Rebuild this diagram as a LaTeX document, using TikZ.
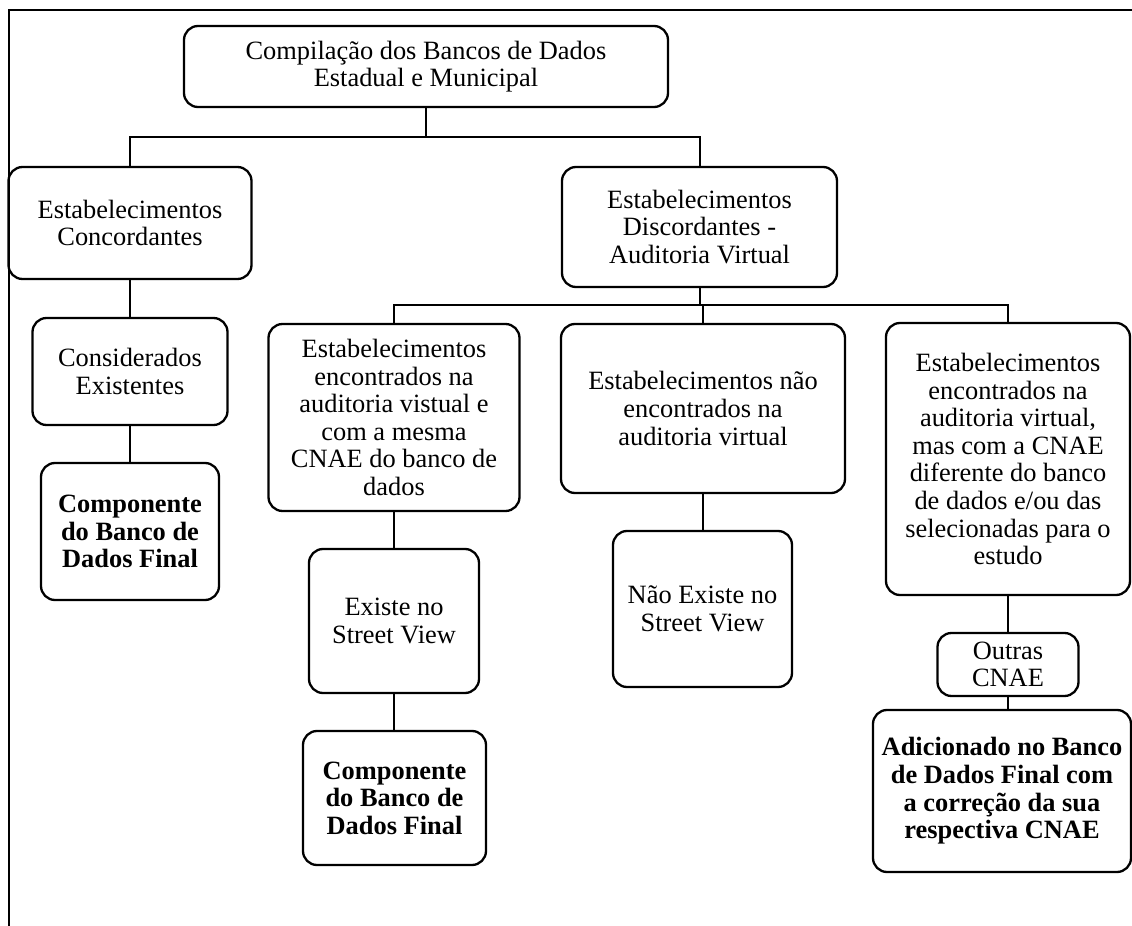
\documentclass[tikz,border=0pt]{standalone}
\usepackage{fontspec}
\setmainfont{Liberation Serif}
\usetikzlibrary{positioning}

\begin{document}
\begin{tikzpicture}[x=0.5pt,y=-0.5pt,
    caixa/.style={draw,line width=1.15pt,rounded corners=7pt,align=center,inner sep=2pt,
                  font=\fontsize{13.2}{13.8}\selectfont},
    negrito/.style={caixa,font=\fontsize{13.2}{13.8}\selectfont\bfseries},
    liga/.style={line width=1pt}]
    \useasboundingbox (0,0) rectangle (1132,926);

    % Moldura
    \draw[liga] (8.5,926) -- (8.5,10) -- (1132,10);

    % Caixas
    \node[caixa,minimum width=242pt,minimum height=40.5pt] (top) at (426,66.5)
        {Compilação dos Bancos de Dados\\Estadual e Municipal};
    \node[caixa,minimum width=121.5pt,minimum height=56pt] (conc) at (130,223)
        {Estabelecimentos\\Concordantes};
    \node[caixa,minimum width=137.5pt,minimum height=60pt] (disc) at (699.5,227)
        {Estabelecimentos\\Discordantes -\\Auditoria Virtual};
    \node[caixa,minimum width=97.5pt,minimum height=53.5pt] (cons) at (130,371.5)
        {Considerados\\Existentes};
    \node[negrito,minimum width=89pt,minimum height=68.5pt] (comp1) at (130,531.5)
        {Componente\\do Banco de\\Dados Final};
    \node[caixa,minimum width=125.5pt,minimum height=93.5pt] (enc) at (394,417.5)
        {Estabelecimentos\\encontrados na\\auditoria vistual e\\com a mesma\\CNAE do banco de\\dados};
    \node[caixa,minimum width=142pt,minimum height=84.5pt] (nenc) at (703,408.5)
        {Estabelecimentos não\\encontrados na\\auditoria virtual};
    \node[caixa,minimum width=122pt,minimum height=136pt] (dif) at (1008,459)
        {Estabelecimentos\\encontrados na\\auditoria virtual,\\mas com a CNAE\\diferente do banco\\de dados e/ou das\\selecionadas para o\\estudo};
    \node[caixa,minimum width=85pt,minimum height=72pt] (exist) at (394,621)
        {Existe no\\Street View};
    \node[negrito,minimum width=91.5pt,minimum height=67pt] (comp2) at (394.5,798)
        {Componente\\do Banco de\\Dados Final};
    \node[caixa,minimum width=89.5pt,minimum height=78pt] (naoex) at (702.5,609)
        {Não Existe no\\Street View};
    \node[caixa,minimum width=70.5pt,minimum height=31.5pt] (outras) at (1008,664.5)
        {Outras\\CNAE};
    \node[negrito,minimum width=129pt,minimum height=81pt] (adic) at (1002,791)
        {Adicionado no Banco\\de Dados Final com\\a correção da sua\\respectiva CNAE};

    % Ligações
    \coordinate (bus1) at (426,137);
    \coordinate (bus2) at (699.5,305);
    \draw[liga] (top.south) -- (top.south |- bus1);
    \draw[liga] (conc.north) |- (bus1) -| (disc.north);
    \draw[liga] (disc.south) -- (disc.south |- bus2);
    \draw[liga] (enc.north) |- (bus2) -| (dif.north);
    \draw[liga] (nenc.north) -- (nenc.north |- bus2);
    \draw[liga] (conc.south) -- (conc.south |- cons.north);
    \draw[liga] (cons.south) -- (cons.south |- comp1.north);
    \draw[liga] (enc.south) -- (enc.south |- exist.north);
    \draw[liga] (exist.south) -- (exist.south |- comp2.north);
    \draw[liga] (nenc.south) -- (nenc.south |- naoex.north);
    \draw[liga] (dif.south) -- (dif.south |- outras.north);
    \draw[liga] (outras.south) -- (outras.south |- adic.north);
\end{tikzpicture}
\end{document}
